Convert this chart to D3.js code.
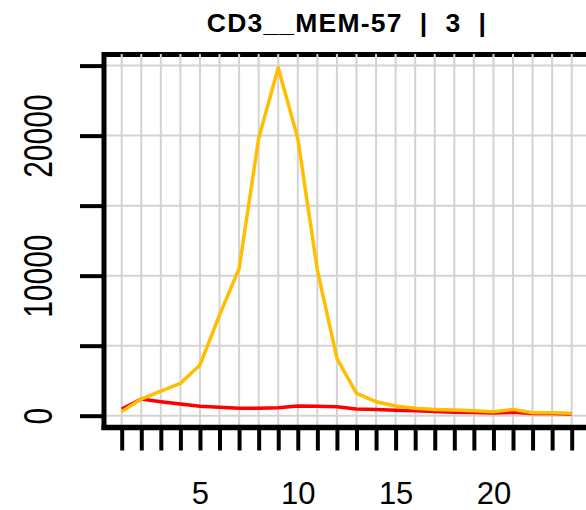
<!DOCTYPE html>
<html><head><meta charset="utf-8">
<script src="https://cdn.jsdelivr.net/npm/d3@7"></script>
<style>
html,body{margin:0;padding:0;background:#fff;}
svg{display:block;}
text{font-family:"Liberation Sans",Arial,sans-serif;}
</style></head>
<body><svg id="c" width="586" height="510"></svg>
<script>
const title = "CD3__MEM-57  |  3  |";
const xValues = [1,2,3,4,5,6,7,8,9,10,11,12,13,14,15,16,17,18,19,20,21,22,23,24];
const redSeries = [480,1190,1000,830,680,600,530,530,560,690,670,640,480,450,390,360,300,250,230,200,240,150,150,130];
const goldSeries = [290,1190,1760,2310,3620,7180,10500,19800,24850,19800,10400,4090,1600,1000,690,530,450,400,360,290,450,210,210,170];
const xTickValues = [1,2,3,4,5,6,7,8,9,10,11,12,13,14,15,16,17,18,19,20,21,22,23,24];
const xTickLabels = ["5","10","15","20"];
const yTickValues = [0,5000,10000,15000,20000,25000];
const yTickLabels = ["0","10000","20000"];

const svg = d3.select("#c");
const x = d3.scaleLinear().domain([1,24]).range([121.7,571.7]);
const y = d3.scaleLinear().domain([0,25000]).range([415.7,65.6]);
const plotLeft = 104, plotTop = 54.5, plotBottom = 427.5, plotRight = 600;

// horizontal grid
svg.append("g").selectAll("line").data(yTickValues).enter().append("line")
  .attr("x1", plotLeft).attr("x2", plotRight)
  .attr("y1", d=>y(d)).attr("y2", d=>y(d))
  .attr("stroke","#d3d3d3").attr("stroke-width",2);

// frame (top)
svg.append("line").attr("x1",plotLeft).attr("x2",plotRight).attr("y1",plotTop).attr("y2",plotTop)
  .attr("stroke","#000").attr("stroke-width",5);

// vertical grid
svg.append("g").selectAll("line").data(xTickValues).enter().append("line")
  .attr("x1", d=>x(d)).attr("x2", d=>x(d))
  .attr("y1", plotBottom).attr("y2", plotTop-0.5)
  .attr("stroke","#d3d3d3").attr("stroke-width",2);

// lines
const line = d3.line().x((d,i)=>x(xValues[i])).y(d=>y(d));
svg.append("path").datum(redSeries).attr("d",line).attr("fill","none")
  .attr("stroke","#ff0000").attr("stroke-width",3.5).attr("stroke-linejoin","round");
svg.append("path").datum(goldSeries).attr("d",line).attr("fill","none")
  .attr("stroke","#ffbe00").attr("stroke-width",3.5).attr("stroke-linejoin","round");

// axes
const xAxis = d3.axisBottom(x).tickValues(xTickValues).tickSize(23).tickSizeOuter(0)
  .tickFormat(d => xTickLabels.includes(String(d)) ? String(d) : "");
const gx = svg.append("g").attr("transform",`translate(0,${plotBottom})`).call(xAxis);
gx.select(".domain").attr("d",`M${plotLeft-2.5},0H${plotRight}`).attr("stroke","#000").attr("stroke-width",5.5);
gx.selectAll(".tick line").attr("stroke","#000").attr("stroke-width",4);
gx.selectAll(".tick text").attr("font-size",31).attr("fill","#000").attr("dy",0).attr("y",76)
  .style("font-family","'Liberation Sans',Arial,sans-serif");

const yAxis = d3.axisLeft(y).tickValues(yTickValues).tickSize(24).tickSizeOuter(0)
  .tickFormat(d => yTickLabels.includes(String(d)) ? String(d) : "");
const gy = svg.append("g").attr("transform",`translate(${plotLeft},0)`).call(yAxis);
gy.select(".domain").attr("d",`M0,${plotTop-2.5}V${plotBottom+2.5}`).attr("stroke","#000").attr("stroke-width",5);
gy.selectAll(".tick line").attr("stroke","#000").attr("stroke-width",4);
gy.selectAll(".tick text").attr("font-size",30).attr("fill","#000")
  .attr("x",0).attr("y",0).attr("dy",0).attr("text-anchor","middle")
  .attr("transform",`translate(${51.7-plotLeft},0) rotate(-90) scale(1,1.33)`)
  .style("font-family","'Liberation Sans',Arial,sans-serif");

// title
svg.append("text").attr("x",347).attr("y",32).attr("text-anchor","middle")
  .attr("font-size",26.5).attr("font-weight","bold").attr("fill","#000")
  .attr("letter-spacing",1.2)
  .style("white-space","pre").text(title);
</script></body></html>
